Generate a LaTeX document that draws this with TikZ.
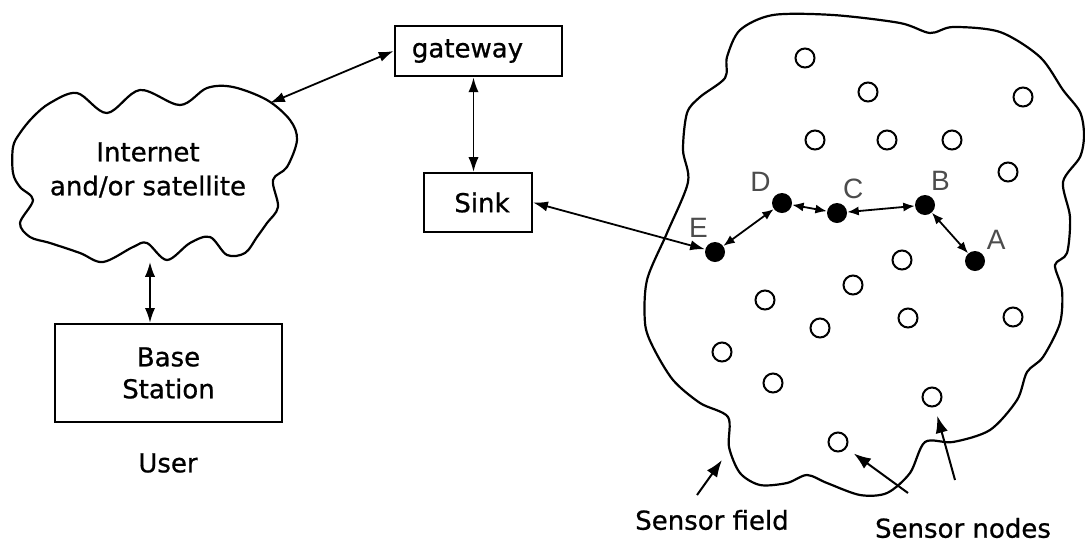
\documentclass[tikz,border=0pt]{standalone}
\usepackage{fontspec}
\setmainfont{DejaVu Sans}[UprightFeatures={FakeBold=0.8}]
\newfontfamily\hopfont{Liberation Sans}
\usetikzlibrary{calc, arrows.meta, positioning}

\begin{document}
\begin{tikzpicture}[
    x=0.5pt, y=-0.5pt,
    box/.style={draw, line width=1.1pt, inner sep=0pt, align=center, font=\fontsize{13}{16}\selectfont},
    caption/.style={font=\fontsize{13}{16}\selectfont, align=center, inner sep=1pt},
    outline/.style={line width=1.1pt, line join=round},
    link/.style={{Latex[length=2.6mm,width=1.8mm]}-{Latex[length=2.6mm,width=1.8mm]}, line width=0.9pt},
    hop/.style={{Latex[length=2mm,width=1.6mm]}-{Latex[length=2mm,width=1.6mm]}, line width=0.9pt},
    pointer/.style={-{Latex[length=3mm,width=2.2mm]}, line width=1pt},
    sensor/.style={circle, draw, line width=1pt, minimum size=9.5pt, inner sep=0pt},
    relay/.style={circle, fill=black, minimum size=10pt, inner sep=0pt},
    hop label/.style={font=\hopfont\fontsize{14}{16}\selectfont, text=black!70, inner sep=2pt}
]
\useasboundingbox (0,0) rectangle (1085,542);

% Boxes
\node[box, line width=1.4pt, minimum width=83.5pt, minimum height=25pt] (gateway) at (478.5,51) {gateway\hspace*{11pt}};
\node[box, minimum width=54pt, minimum height=29.5pt] (sink) at (478,202.5) {\hspace*{4pt}Sink};
\node[box, line width=1.2pt, minimum width=113.5pt, minimum height=49pt] (base) at (168.5,373) {Base\\Station};
\node[caption] (user) at (168,463) {User};

% Internet cloud
\node[caption, font=\fontsize{13}{17}\selectfont] (inet) at (148,170) {Internet\\and/or satellite};
\draw[outline] plot[smooth cycle, tension=0.55] coordinates {
    (50,103) (77,93) (107,113) (140,90) (180,105) (207,88) (233,87) (267,100)
    (290,120) (297,140) (287,167) (273,180) (278,207) (267,223) (257,237) (245,253)
    (227,255) (210,237) (190,243) (167,260) (147,243) (133,247) (103,262) (80,253)
    (50,243) (30,237) (20,223) (33,200) (20,187) (13,173) (13,147) (20,133) (33,117)};
\coordinate (inetNE) at (270,103);
\coordinate (inetS) at (150,262);

% Sensor field
\draw[outline] plot[smooth cycle, tension=0.5] coordinates {
    (740,30) (773,15) (833,15) (900,23) (930,33) (953,27) (1000,32) (1040,57)
    (1063,90) (1080,112) (1084,135) (1080,157) (1063,182) (1070,217) (1067,253)
    (1055,265) (1062,290) (1060,323) (1043,357) (1027,372) (1017,400) (990,430)
    (953,442) (925,442) (910,473) (887,493) (860,495) (827,483) (807,475)
    (787,483) (760,485) (740,473) (729,447) (728,417) (700,403) (673,380)
    (653,347) (645,323) (647,280) (667,233) (688,182) (683,150) (687,113)
    (700,97) (725,78) (727,57)};

% Sensor nodes
\foreach \p [count=\i] in {(805,58), (868,92), (1023,97), (815,140), (887,140),
    (952,140), (1008,172), (902,260), (853,285), (765,300), (908,318), (1013,317),
    (820,328), (722,352), (773,383), (932,397), (838,442)}
    \node[sensor] (s\i) at \p {};

% Relay path
\node[relay, label={[hop label]45:A}] (A) at (975,261) {};
\node[relay, label={[hop label]80:B}] (B) at (925,205) {};
\node[relay, label={[hop label]80:C}] (C) at (837,213) {};
\node[relay, label={[hop label]133:D}] (D) at (782,203) {};
\node[relay, label={[hop label]106:E}] (E) at (715,252) {};

\draw[hop] (A) -- (B);
\draw[hop] (B) -- (C);
\draw[hop] (C) -- (D);
\draw[hop] (D) -- (E);

% Links
\draw[link] (gateway.west) -- (inetNE);
\draw[link] ([xshift=-2.5pt]gateway.south) -- ([xshift=-2.5pt]gateway.south |- sink.north);
\draw[link] (sink.east) -- (E);
\draw[link] (inetS) -- (inetS |- base.north);

% Labels with pointers
\node[caption] (fieldlabel) at (712,520) {Sensor field};
\node[caption] (nodeslabel) at (963,528) {Sensor nodes};
\coordinate (fieldtail) at (697,495);
\coordinate (fieldtip) at (722,460);
\coordinate (nodestail1) at (908,493);
\coordinate (nodestail2) at (955,480);
\draw[pointer] (fieldtail) -- (fieldtip);
\draw[pointer, shorten >=4.5pt] (nodestail1) -- (s17);
\draw[pointer, shorten >=4.5pt] (nodestail2) -- (s16);
\end{tikzpicture}
\end{document}
